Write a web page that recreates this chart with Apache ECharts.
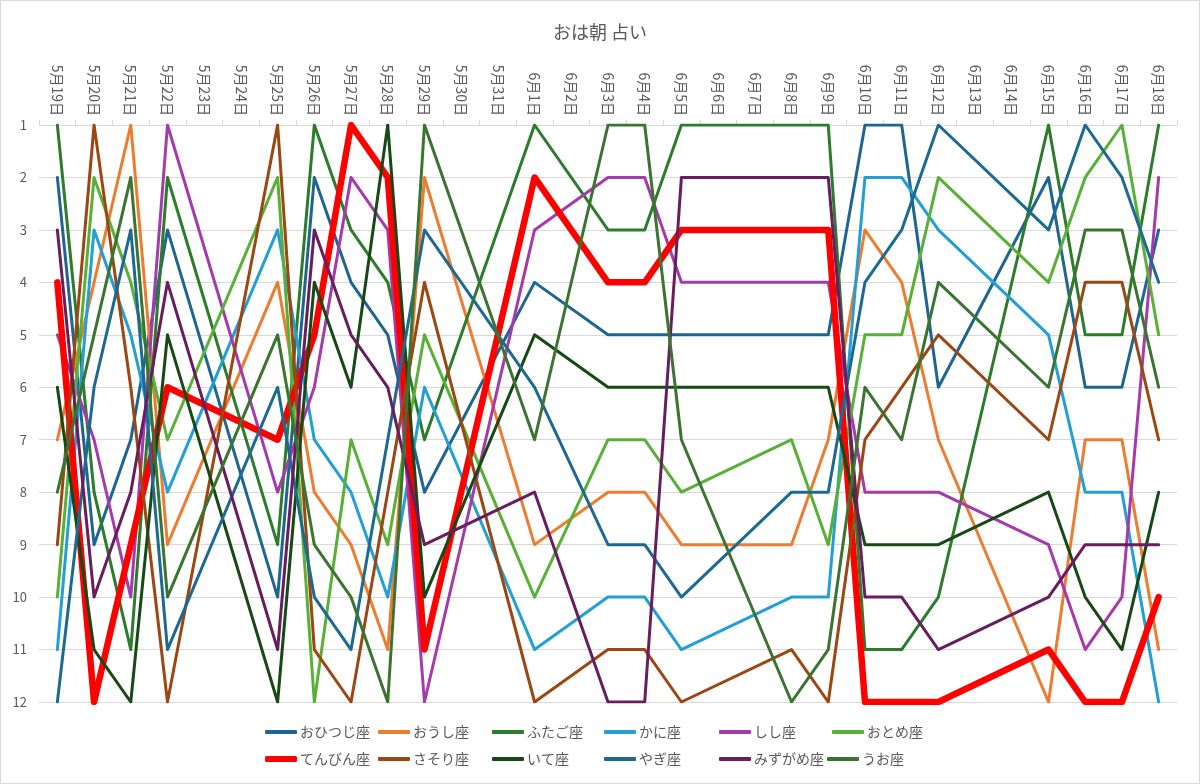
<!DOCTYPE html>
<html>
<head>
<meta charset="utf-8">
<script src="https://cdn.jsdelivr.net/npm/echarts@6/dist/echarts.min.js"></script>
<style>
html, body { margin: 0; padding: 0; background: #fff; }
#main { width: 1200px; height: 784px; }
</style>
</head>
<body>
<div id="main"></div>
<script>
const chartDom = document.getElementById('main');
const myChart = echarts.init(chartDom);
let option;

const dates = [
    '5月19日', '5月20日', '5月21日', '5月22日', '5月23日', '5月24日', '5月25日',
    '5月26日', '5月27日', '5月28日', '5月29日', '5月30日', '5月31日',
    '6月1日', '6月2日', '6月3日', '6月4日', '6月5日', '6月6日', '6月7日',
    '6月8日', '6月9日', '6月10日', '6月11日', '6月12日', '6月13日', '6月14日',
    '6月15日', '6月16日', '6月17日', '6月18日'
];

// ranks per day (null = no broadcast)
const n = null;
const ohitsuji = [2, 9, 7, 3, n, n, 10, 2, 4, 5, 8, n, n, 4, n, 5, 5, 5, n, n, 5, 5, 1, 1, 6, n, n, 2, 6, 6, 3];
const oushi    = [7, 4, 1, 9, n, n, 4, 8, 9, 11, 2, n, n, 9, n, 8, 8, 9, n, n, 9, 7, 3, 4, 7, n, n, 12, 7, 7, 11];
const futago   = [1, 8, 11, 2, n, n, 9, 1, 3, 4, 7, n, n, 1, n, 3, 3, 1, n, n, 1, 1, 11, 11, 10, n, n, 1, 5, 5, 1];
const kani     = [11, 3, 5, 8, n, n, 3, 7, 8, 10, 6, n, n, 11, n, 10, 10, 11, n, n, 10, 10, 2, 2, 3, n, n, 5, 8, 8, 12];
const shishi   = [5, 7, 10, 1, n, n, 8, 6, 2, 3, 12, n, n, 3, n, 2, 2, 4, n, n, 4, 4, 8, 8, 8, n, n, 9, 11, 10, 2];
const otome    = [10, 2, 4, 7, n, n, 2, 12, 7, 9, 5, n, n, 10, n, 7, 7, 8, n, n, 7, 9, 5, 5, 2, n, n, 4, 2, 1, 5];
const tenbin   = [4, 12, 9, 6, n, n, 7, 5, 1, 2, 11, n, n, 2, n, 4, 4, 3, n, n, 3, 3, 12, 12, 12, n, n, 11, 12, 12, 10];
const sasori   = [9, 1, 6, 12, n, n, 1, 11, 12, 8, 4, n, n, 12, n, 11, 11, 12, n, n, 11, 12, 7, 6, 5, n, n, 7, 4, 4, 7];
const ite      = [6, 11, 12, 5, n, n, 12, 4, 6, 1, 10, n, n, 5, n, 6, 6, 6, n, n, 6, 6, 9, 9, 9, n, n, 8, 10, 11, 8];
const yagi     = [12, 6, 3, 11, n, n, 6, 10, 11, 7, 3, n, n, 6, n, 9, 9, 10, n, n, 8, 8, 4, 3, 1, n, n, 3, 1, 2, 4];
const mizugame = [3, 10, 8, 4, n, n, 11, 3, 5, 6, 9, n, n, 8, n, 12, 12, 2, n, n, 2, 2, 10, 10, 11, n, n, 10, 9, 9, 9];
const uo       = [8, 5, 2, 10, n, n, 5, 9, 10, 12, 1, n, n, 7, n, 1, 1, 7, n, n, 12, 11, 6, 7, 4, n, n, 6, 3, 3, 6];

const signs = ['おひつじ座', 'おうし座', 'ふたご座', 'かに座', 'しし座', 'おとめ座',
    'てんびん座', 'さそり座', 'いて座', 'やぎ座', 'みずがめ座', 'うお座'];
const ranks = [ohitsuji, oushi, futago, kani, shishi, otome, tenbin, sasori, ite, yagi, mizugame, uo];
const colors = ['#1F6592', '#EE7C30', '#2B7C2B', '#219FD6', '#A43AAC', '#59B036',
    '#FF0000', '#9C4612', '#174917', '#1C6A92', '#681D5E', '#3B7431'];

const legendLeft = [265, 378, 492, 604, 719, 832, 265, 378, 492, 604, 719, 827];

option = {
    backgroundColor: '#fff',
    textStyle: { fontFamily: 'Noto Sans CJK JP' },
    title: {
        text: 'おは朝 占い',
        left: 'center',
        top: 18,
        textStyle: { fontSize: 18, fontWeight: 'normal', color: '#595959', fontFamily: 'Noto Sans CJK JP' }
    },
    graphic: [{
        type: 'rect',
        shape: { x: 0.5, y: 0.5, width: 1199, height: 783 },
        style: { fill: 'none', stroke: '#D9D9D9', lineWidth: 1 },
        silent: true
    }],
    grid: { left: 39, right: 23, top: 125, bottom: 82 },
    xAxis: {
        type: 'category',
        position: 'top',
        data: dates,
        boundaryGap: true,
        axisLine: { lineStyle: { color: '#D9D9D9' } },
        axisTick: { show: true, length: 5, lineStyle: { color: '#D9D9D9' } },
        axisLabel: { rotate: 90, interval: 0, fontSize: 14, color: '#595959', margin: 9 }
    },
    yAxis: {
        type: 'value',
        inverse: true,
        min: 1,
        max: 12,
        interval: 1,
        axisLine: { show: false },
        axisTick: { show: false },
        splitLine: { lineStyle: { color: '#D9D9D9', width: 1 } },
        axisLabel: { fontSize: 13, color: '#595959', margin: 12 }
    },
    legend: signs.map(function (s, i) {
        return {
            data: [{ name: s, icon: 'roundRect' }],
            left: legendLeft[i],
            top: i < 6 ? 725 : 752,
            itemWidth: 32,
            itemHeight: s === 'てんびん座' ? 6 : 4,
            itemGap: 0,
            padding: 0,
            selectedMode: false,
            textStyle: { fontSize: 14, color: '#595959', padding: [0, 0, 0, -2] }
        };
    }),
    series: signs.map(function (s, i) {
        return {
            name: s,
            type: 'line',
            data: ranks[i],
            connectNulls: true,
            symbol: 'none',
            color: colors[i],
            lineStyle: {
                color: colors[i],
                width: s === 'てんびん座' ? 6.5 : 3,
                join: 'round',
                cap: 'round'
            }
        };
    })
};

option && myChart.setOption(option);
</script>
</body>
</html>
